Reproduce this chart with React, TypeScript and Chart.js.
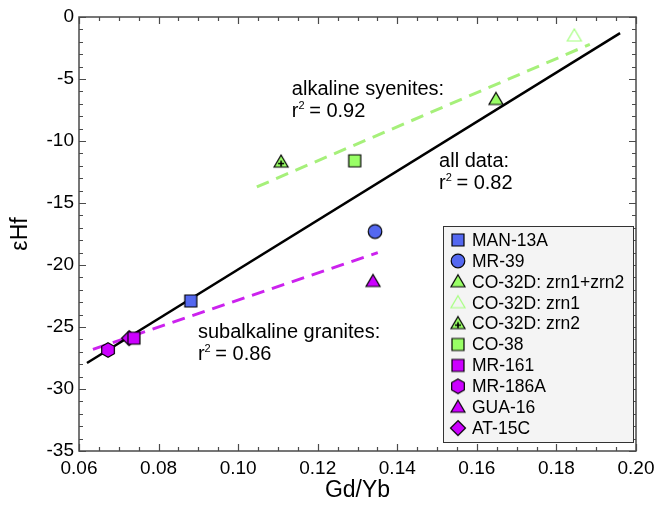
import React, { useEffect, useRef } from 'react';
import { Chart, registerables } from 'chart.js';

Chart.register(...registerables);

const FONT = "'Liberation Sans', Arial, Helvetica, sans-serif";

// ---- data ----
const sampleNames = [
  'MAN-13A', 'MR-39', 'CO-32D: zrn1+zrn2', 'CO-32D: zrn1', 'CO-32D: zrn2',
  'CO-38', 'MR-161', 'MR-186A', 'GUA-16', 'AT-15C',
];
const gdYb = [0.0881, 0.1344, 0.1648, 0.1845, 0.1108, 0.1293, 0.0738, 0.0673, 0.1339, 0.0726];
const epsHf = [-22.9, -17.3, -6.65, -1.53, -11.7, -11.6, -25.9, -26.85, -21.33, -25.9];
const markerShapes = ['square', 'circle', 'triangle', 'triangle', 'triangleplus', 'square', 'square', 'hexagon', 'triangle', 'diamond'];
const markerFills = ['#5468F0', '#5468F0', '#99FF66', 'rgba(0,0,0,0)', '#99FF66', '#99FF66', '#CC00FF', '#CC00FF', '#CC00FF', '#CC00FF'];
const markerStrokes = ['#000', '#000', '#000', '#A6FF80', '#000', '#000', '#000', '#000', '#000', '#000'];

const allFitX = [0.062, 0.196];
const allFitY = [-27.9, -1.3];
const syeniteFitX = [0.1047, 0.1884];
const syeniteFitY = [-13.7, -2.2];
const graniteFitX = [0.0635, 0.1351];
const graniteFitY = [-26.8, -19.0];

const xTicksMajor = [0.06, 0.08, 0.1, 0.12, 0.14, 0.16, 0.18, 0.2];
const yTicksMajor = [0, -5, -10, -15, -20, -25, -30, -35];

const annotations = [
  { x: 0.1135, y: -6.3, title: 'alkaline syenites:', r2: '0.92' },
  { x: 0.1505, y: -12.1, title: 'all data:', r2: '0.82' },
  { x: 0.0899, y: -25.9, title: 'subalkaline granites:', r2: '0.86' },
];

function makeMarker(shape: string, fill: string, stroke: string): HTMLCanvasElement {
  const size = 20;
  const c = document.createElement('canvas');
  c.width = size;
  c.height = size;
  const ctx = c.getContext('2d')!;
  const cx = size / 2, cy = size / 2;
  ctx.beginPath();
  if (shape === 'square') {
    ctx.rect(cx - 6, cy - 6, 12, 12);
  } else if (shape === 'circle') {
    ctx.arc(cx, cy, 6.8, 0, Math.PI * 2);
  } else if (shape === 'triangle' || shape === 'triangleplus') {
    ctx.moveTo(cx, cy - 7);
    ctx.lineTo(cx + 7, cy + 5);
    ctx.lineTo(cx - 7, cy + 5);
    ctx.closePath();
  } else if (shape === 'hexagon') {
    for (let i = 0; i < 6; i++) {
      const a = -Math.PI / 2 + (i * Math.PI) / 3;
      const px = cx + 7.3 * Math.cos(a), py = cy + 7.3 * Math.sin(a);
      if (i === 0) ctx.moveTo(px, py); else ctx.lineTo(px, py);
    }
    ctx.closePath();
  } else if (shape === 'diamond') {
    ctx.moveTo(cx, cy - 7.5);
    ctx.lineTo(cx + 7.5, cy);
    ctx.lineTo(cx, cy + 7.5);
    ctx.lineTo(cx - 7.5, cy);
    ctx.closePath();
  }
  ctx.fillStyle = fill;
  ctx.fill();
  ctx.lineWidth = 1.2;
  ctx.strokeStyle = stroke;
  ctx.stroke();
  if (shape === 'triangleplus') {
    ctx.beginPath();
    ctx.moveTo(cx - 3, cy + 1.5);
    ctx.lineTo(cx + 3, cy + 1.5);
    ctx.moveTo(cx, cy - 1.5);
    ctx.lineTo(cx, cy + 4.5);
    ctx.lineWidth = 1.6;
    ctx.strokeStyle = '#000';
    ctx.stroke();
  }
  return c;
}

const framePlugin = {
  id: 'frameTicks',
  afterDatasetsDraw(chart: any) {
    const { ctx, chartArea: a, scales } = chart;
    const xs = scales.x, ys = scales.y;
    ctx.save();
    ctx.strokeStyle = '#4a4a4a';
    ctx.lineWidth = 1.5;
    ctx.strokeRect(a.left, a.top, a.right - a.left, a.bottom - a.top);
    ctx.beginPath();
    for (let i = 0; i <= 28; i++) {
      const v = 0.06 + i * 0.005;
      const px = Math.round(xs.getPixelForValue(v)) + 0.5;
      const len = i % 4 === 0 ? 7 : 4;
      ctx.moveTo(px, a.bottom); ctx.lineTo(px, a.bottom - len);
      ctx.moveTo(px, a.top); ctx.lineTo(px, a.top + len);
    }
    for (let i = 0; i <= 35; i++) {
      const v = -i;
      const py = Math.round(ys.getPixelForValue(v)) + 0.5;
      const len = i % 5 === 0 ? 7 : 4;
      ctx.moveTo(a.left, py); ctx.lineTo(a.left + len, py);
      ctx.moveTo(a.right, py); ctx.lineTo(a.right - len, py);
    }
    ctx.lineWidth = 1.2;
    ctx.stroke();
    ctx.restore();
  },
  afterDraw(chart: any) {
    const { ctx, chartArea: a, scales } = chart;
    const xs = scales.x, ys = scales.y;
    ctx.save();
    // annotations
    ctx.fillStyle = '#000';
    ctx.textBaseline = 'alphabetic';
    ctx.textAlign = 'left';
    for (const an of annotations) {
      const px = xs.getPixelForValue(an.x);
      const py = ys.getPixelForValue(an.y);
      ctx.font = `20px ${FONT}`;
      ctx.fillText(an.title, px, py);
      const y2 = py + 22;
      ctx.fillText('r', px, y2);
      const rw = ctx.measureText('r').width;
      ctx.font = `11px ${FONT}`;
      ctx.fillText('2', px + rw, y2 - 8);
      const sw = ctx.measureText('2').width;
      ctx.font = `20px ${FONT}`;
      ctx.fillText(' = ' + an.r2, px + rw + sw - 1, y2);
    }
    // legend
    const bw = 190, bh = 216;
    const bx = a.right - 3 - bw, by = a.bottom - 9 - bh;
    ctx.fillStyle = '#F4F4F4';
    ctx.fillRect(bx, by, bw, bh);
    ctx.strokeStyle = '#333';
    ctx.lineWidth = 1;
    ctx.strokeRect(Math.round(bx) + 0.5, Math.round(by) + 0.5, bw, bh);
    const ds = chart.data.datasets.filter((d: any) => d.isSample);
    ctx.font = `17.5px ${FONT}`;
    ctx.textBaseline = 'middle';
    ctx.fillStyle = '#000';
    ds.forEach((d: any, i: number) => {
      const cy = by + 14 + i * 20.9;
      const img = d.pointStyle as HTMLCanvasElement;
      ctx.drawImage(img, bx + 15 - img.width / 2, cy - img.height / 2);
      ctx.fillText(d.label, bx + 29, cy + 1);
    });
    ctx.restore();
  },
};

export default function App() {
  const ref = useRef<HTMLCanvasElement | null>(null);
  useEffect(() => {
    if (!ref.current) return;
    const sampleSets = sampleNames.map((name, i) => ({
      type: 'scatter' as const,
      label: name,
      isSample: true,
      data: [{ x: gdYb[i], y: epsHf[i] }],
      pointStyle: makeMarker(markerShapes[i], markerFills[i], markerStrokes[i]),
      pointRadius: 8,
      showLine: false,
    }));
    const fit = (xsArr: number[], ysArr: number[], color: string, dash: number[], width: number) => ({
      type: 'line' as const,
      label: '',
      isSample: false,
      data: xsArr.map((x, i) => ({ x, y: ysArr[i] })),
      borderColor: color,
      borderWidth: width,
      borderDash: dash,
      pointRadius: 0,
      fill: false,
    });
    const chart = new Chart(ref.current, {
      type: 'scatter',
      data: {
        datasets: [
          ...sampleSets,
          fit(allFitX, allFitY, '#000', [], 2.5),
          fit(syeniteFitX, syeniteFitY, '#A6F07A', [13, 8], 3),
          fit(graniteFitX, graniteFitY, '#CC22EE', [13, 8], 3),
        ] as any,
      },
      options: {
        animation: false,
        responsive: false,
        layout: { padding: { top: 17, right: 28, left: 0, bottom: 0 } },
        plugins: { legend: { display: false }, tooltip: { enabled: false } },
        scales: {
          x: {
            type: 'linear',
            min: 0.06,
            max: 0.2,
            afterBuildTicks: (s: any) => { s.ticks = xTicksMajor.map((v) => ({ value: v })); },
            ticks: {
              callback: (v: any) => Number(v).toFixed(2),
              font: { family: FONT, size: 19 },
              color: '#000',
              padding: 6,
              maxRotation: 0,
            },
            grid: { display: false, drawTicks: false },
            border: { display: false },
            title: { display: true, text: 'Gd/Yb', font: { family: FONT, size: 23 }, color: '#000', padding: { top: 0, bottom: 7 } },
            afterFit: (s: any) => { s.height = 60; },
          },
          y: {
            type: 'linear',
            min: -35,
            max: 0,
            afterBuildTicks: (s: any) => { s.ticks = yTicksMajor.map((v) => ({ value: v })); },
            ticks: {
              font: { family: FONT, size: 19 },
              color: '#000',
              padding: 5,
            },
            grid: { display: false, drawTicks: false },
            border: { display: false },
            title: { display: true, text: 'εHf', font: { family: FONT, size: 23 }, color: '#000', padding: { top: 7, bottom: 0 } },
            afterFit: (s: any) => { s.width = 79; },
          },
        },
      } as any,
      plugins: [framePlugin],
    });
    return () => chart.destroy();
  }, []);
  return (
    <div style={{ position: 'fixed', left: 0, top: 0, width: 664, height: 511, background: '#fff' }}>
      <canvas ref={ref} width={664} height={511} style={{ width: 664, height: 511, display: 'block' }} />
    </div>
  );
}
